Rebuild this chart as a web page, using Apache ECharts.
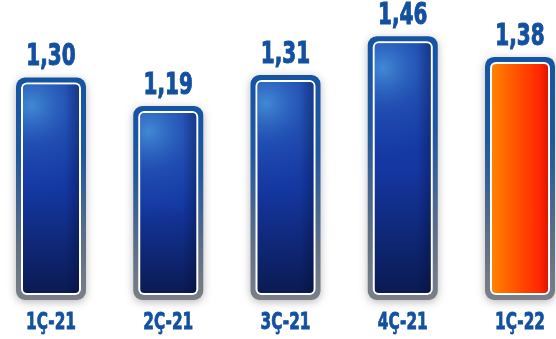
<!DOCTYPE html>
<html>
<head>
<meta charset="utf-8">
<script src="https://cdn.jsdelivr.net/npm/echarts@6/dist/echarts.min.js"></script>
<style>
  html, body { margin: 0; padding: 0; background: #fff; }
  #chart { width: 556px; height: 339px; }
</style>
</head>
<body>
<div id="chart"></div>
<script>
// quarters and values
var categories = ["1Ç-21", "2Ç-21", "3Ç-21", "4Ç-21", "1Ç-22"];
var values = [1.30, 1.19, 1.31, 1.46, 1.38];
var highlighted = [false, false, false, false, true]; // last quarter drawn orange

var yMin = 0.44;
var yMax = 1.6;
var font = '"DejaVu Sans Condensed", "DejaVu Sans", sans-serif';
var textColor = "#13509f";

var chart = echarts.init(document.getElementById("chart"));

function fmt(v) {
  return v.toFixed(2).replace(".", ",");
}

function renderBar(params, api) {
  var idx = params.dataIndex;
  var top = api.coord([api.value(0), api.value(1)]);
  var base = api.coord([api.value(0), yMin]);
  var bw = 70;
  var left = top[0] - bw / 2;
  var h = base[1] - top[1];
  var inner = { x: left + 7, y: top[1] + 7, width: bw - 14, height: h - 14, r: 4 };

  var layers = [];
  if (highlighted[idx]) {
    layers.push({
      type: "rect",
      shape: inner,
      style: {
        fill: new echarts.graphic.LinearGradient(0, 0, 1, 0, [
          { offset: 0, color: "#ff8200" },
          { offset: 0.55, color: "#ff4600" },
          { offset: 1, color: "#ff1800" },
        ]),
      },
    });
    layers.push({
      type: "rect",
      shape: inner,
      style: {
        fill: new echarts.graphic.LinearGradient(0, 0, 1, 0, [
          { offset: 0, color: "rgba(60,0,0,0)" },
          { offset: 0.85, color: "rgba(60,0,0,0)" },
          { offset: 1, color: "rgba(60,0,0,0.15)" },
        ]),
      },
    });
  } else {
    layers.push({
      type: "rect",
      shape: inner,
      style: {
        fill: new echarts.graphic.LinearGradient(0, 0, 0, 1, [
          { offset: 0, color: "#1b42aa" },
          { offset: 0.5, color: "#1437a2" },
          { offset: 1, color: "#0a1a52" },
        ]),
      },
    });
    layers.push({
      type: "rect",
      shape: inner,
      style: {
        fill: new echarts.graphic.RadialGradient(0.15, 0.1, 1.6, [
          { offset: 0, color: "rgba(72,150,220,0.85)" },
          { offset: 0.45, color: "rgba(50,110,200,0.35)" },
          { offset: 1, color: "rgba(40,90,190,0)" },
        ]),
      },
    });
    layers.push({
      type: "rect",
      shape: inner,
      style: {
        fill: new echarts.graphic.LinearGradient(0, 0, 1, 0, [
          { offset: 0, color: "rgba(0,10,40,0)" },
          { offset: 0.75, color: "rgba(0,10,40,0)" },
          { offset: 1, color: "rgba(0,10,40,0.3)" },
        ]),
      },
    });
  }

  return {
    type: "group",
    children: [
      {
        type: "rect",
        shape: { x: left, y: top[1], width: bw, height: h, r: 9 },
        style: {
          fill: new echarts.graphic.LinearGradient(0, 0, 0, 1, [
            { offset: 0, color: "#1554a3" },
            { offset: 0.35, color: "#20589e" },
            { offset: 0.75, color: "#5f6f86" },
            { offset: 1, color: "#7a7f88" },
          ]),
          shadowBlur: 9,
          shadowColor: "rgba(0,0,0,0.28)",
          shadowOffsetY: 2,
        },
      },
      {
        type: "rect",
        shape: { x: left + 5, y: top[1] + 5, width: bw - 10, height: h - 10, r: 6 },
        style: { fill: "#ffffff" },
      },
    ].concat(layers).concat([
      {
        type: "text",
        x: top[0],
        y: top[1] - 5,
        scaleX: 0.74,
        style: {
          text: fmt(values[idx]),
          fill: textColor,
          stroke: textColor,
          lineWidth: 1,
          font: "bold 30px " + font,
          align: "center",
          verticalAlign: "bottom",
        },
      },
      {
        type: "text",
        x: top[0],
        y: base[1] + 23,
        scaleX: 0.74,
        style: {
          text: categories[idx],
          fill: textColor,
          stroke: textColor,
          lineWidth: 0.8,
          font: "bold 23px " + font,
          align: "center",
          verticalAlign: "middle",
        },
      },
    ]),
  };
}

chart.setOption({
  backgroundColor: "#ffffff",
  animation: false,
  grid: {
    left: 0,
    right: 0,
    top: 0,
    bottom: 39,
  },
  xAxis: {
    type: "value",
    min: -0.435,
    max: 4.307,
    show: false,
  },
  yAxis: {
    type: "value",
    min: yMin,
    max: yMax,
    show: false,
  },
  series: [
    {
      type: "custom",
      renderItem: renderBar,
      clip: false,
      data: values.map(function (v, i) {
        return [i, v];
      }),
    },
  ],
});
</script>
</body>
</html>
